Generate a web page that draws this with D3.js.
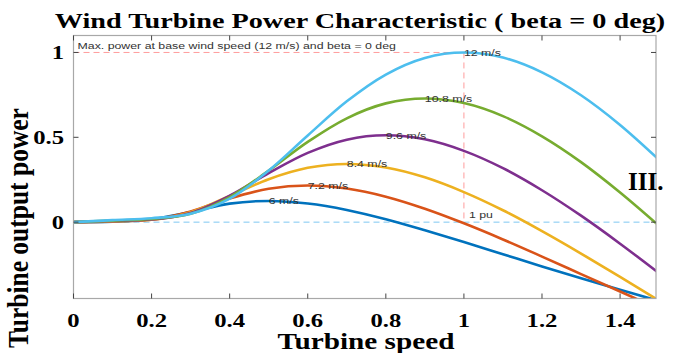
<!DOCTYPE html>
<html><head><meta charset="utf-8">
<script src="https://cdn.jsdelivr.net/npm/d3@7"></script>
<style>html,body{margin:0;padding:0;background:#fff;overflow:hidden}</style>
</head><body>
<svg id="chart" width="673" height="353"></svg>
<script>
// ---- data ----
const speeds = [0,0.1,0.2,0.3,0.4,0.5,0.6,0.7,0.8,0.9,1.0,1.1,1.2,1.3,1.4,1.5];
const p6   = [0,0.003,0.017,0.060,0.109,0.125,0.110,0.072,0.017,-0.048,-0.117,-0.189,-0.261,-0.331,-0.399,-0.465];
const p7_2 = [0,0.004,0.015,0.063,0.140,0.197,0.216,0.198,0.150,0.079,-0.007,-0.102,-0.203,-0.306,-0.409,-0.512];
const p8_4 = [0,0.006,0.015,0.059,0.155,0.253,0.320,0.343,0.322,0.264,0.177,0.070,-0.053,-0.185,-0.322,-0.463];
const p9_6 = [0,0.007,0.016,0.054,0.156,0.289,0.408,0.486,0.512,0.488,0.420,0.318,0.188,0.038,-0.127,-0.301];
const p10_8= [0,0.009,0.019,0.050,0.148,0.304,0.473,0.612,0.700,0.729,0.702,0.625,0.506,0.354,0.175,-0.022];
const p12  = [0,0.012,0.023,0.050,0.138,0.304,0.511,0.712,0.870,0.968,1.000,0.970,0.883,0.748,0.573,0.367];
const seriesNames = ["6 m/s","7.2 m/s","8.4 m/s","9.6 m/s","10.8 m/s","12 m/s"];
const seriesValues = [p6,p7_2,p8_4,p9_6,p10_8,p12];
const seriesColors = ["#0072BD","#D95319","#EDB120","#7E2F8E","#77AC30","#4DBEEE"];
const peakSpeeds = [0.5,0.6,0.7,0.8,0.9,1.0];
const peakPowers = [0.125,0.216,0.343,0.512,0.729,1.0];
const xTicks = [0,0.2,0.4,0.6,0.8,1,1.2,1.4];
const yTicks = [0,0.5,1];
const titleText = "Wind Turbine Power Characteristic ( beta = 0 deg)";
const xLabel = "Turbine speed";
const yLabel = "Turbine output power";
const noteText = "Max. power at base wind speed (12 m/s) and beta = 0 deg";
const puText = "1 pu";
const cornerText = "III.";

// ---- layout ----
const svg = d3.select("#chart");
const L = 73.5, R = 656, T = 35.5, B = 298.5;
const SX = 1.3; // horizontal glyph stretch seen in the picture
const x = d3.scaleLinear().domain([0,1.492]).range([L,R]);
const y = d3.scaleLinear().domain([-0.45,1.1]).range([B,T]);
const serif = "'Liberation Serif','Times New Roman',serif";
const sans = "'Liberation Sans',Arial,sans-serif";

function stext(g, px, py, txt, opts) {
  return g.append("text")
    .attr("transform", `translate(${px},${py}) scale(${opts.sx||SX},1)` + (opts.rot ? ` rotate(${opts.rot})` : ""))
    .attr("text-anchor", opts.anchor || "start")
    .attr("dominant-baseline", opts.baseline || "auto")
    .style("font-family", opts.family || serif)
    .style("font-size", opts.size + "px")
    .style("font-weight", opts.weight || "normal")
    .style("fill", opts.fill || "#000")
    .text(txt);
}

svg.append("defs").append("clipPath").attr("id","clip")
  .append("rect").attr("x",L).attr("y",T).attr("width",R-L).attr("height",B-T);

// reference dashed lines
const ref = svg.append("g").attr("clip-path","url(#clip)");
ref.append("line").attr("x1",x(0)).attr("x2",x(1.5)).attr("y1",y(0)).attr("y2",y(0))
  .attr("stroke","#7ec8f2").attr("stroke-width",1).attr("stroke-dasharray","6,4");
ref.append("line").attr("x1",x(0)).attr("x2",x(1)).attr("y1",y(1)).attr("y2",y(1))
  .attr("stroke","#ff9c9c").attr("stroke-width",1).attr("stroke-dasharray","6,4");
ref.append("line").attr("x1",x(1)).attr("x2",x(1)).attr("y1",y(1)).attr("y2",y(0))
  .attr("stroke","#ff9c9c").attr("stroke-width",1).attr("stroke-dasharray","6,4");

// curves
const line = d3.line().x((d,i)=>x(speeds[i])).y(d=>y(d)).curve(d3.curveMonotoneX);
const curves = svg.append("g").attr("clip-path","url(#clip)");
seriesValues.forEach((vals,k)=>{
  curves.append("path").attr("d", line(vals)).attr("fill","none")
    .attr("stroke", seriesColors[k]).attr("stroke-width",2.6).attr("stroke-linejoin","round");
});

// axes box
const ax = svg.append("g");
ax.append("rect").attr("x",L).attr("y",T).attr("width",R-L).attr("height",B-T)
  .attr("fill","none").attr("stroke","#a8a8a8").attr("stroke-width",1.2);
const tickLen = 5;
xTicks.forEach(t=>{
  ax.append("line").attr("x1",x(t)).attr("x2",x(t)).attr("y1",B).attr("y2",B-tickLen).attr("stroke","#444");
  ax.append("line").attr("x1",x(t)).attr("x2",x(t)).attr("y1",T).attr("y2",T+tickLen).attr("stroke","#444");
  stext(ax, x(t), 327, d3.format("~g")(t), {anchor:"middle", size:19, weight:"bold"});
});
yTicks.forEach(t=>{
  ax.append("line").attr("x1",L).attr("x2",L+tickLen).attr("y1",y(t)).attr("y2",y(t)).attr("stroke","#444");
  ax.append("line").attr("x1",R).attr("x2",R-tickLen).attr("y1",y(t)).attr("y2",y(t)).attr("stroke","#444");
  stext(ax, 64, y(t)+6.5, d3.format("~g")(t), {anchor:"end", size:19, weight:"bold"});
});

// labels
stext(svg, 360, 28, titleText, {anchor:"middle", size:21.7, weight:"bold"});
stext(svg, 366, 349, xLabel, {anchor:"middle", size:22.5, weight:"bold"});
stext(svg, 28, 228, yLabel, {anchor:"middle", size:25.5, weight:"bold", rot:-90, sx:1.15});
stext(svg, 628, 190, cornerText, {anchor:"start", size:25, weight:"bold", sx:1.0});

// annotations
stext(svg, x(0)+4, y(1)-6, noteText, {size:9.5, family:sans, fill:"#333", baseline:"middle"});
stext(svg, x(1)+5, y(0)-7, puText, {size:9.5, family:sans, fill:"#333", baseline:"middle"});
seriesNames.forEach((n,k)=>{
  stext(svg, x(peakSpeeds[k]), y(peakPowers[k])+1, n, {size:9.5, family:sans, fill:"#333", baseline:"middle"});
});
</script>
</body></html>
